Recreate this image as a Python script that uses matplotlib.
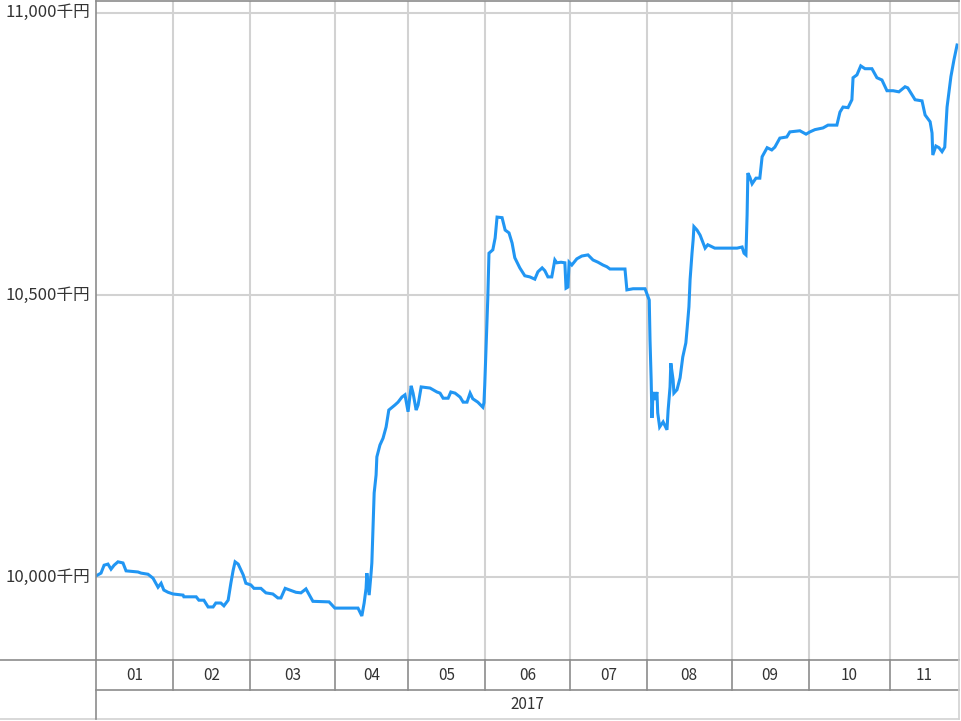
import matplotlib.pyplot as plt
from matplotlib.lines import Line2D
from matplotlib.transforms import blended_transform_factory

plt.rcParams['font.family'] = ['Noto Sans CJK JP', 'DejaVu Sans']

# 月ごとの営業日数 (2017年1月〜11月)
months = ['01', '02', '03', '04', '05', '06', '07', '08', '09', '10', '11']
month_days = [20, 20, 22, 19, 20, 22, 20, 22, 20, 21, 18]
year_label = '2017'

# 基準価額 (千円) — 営業日インデックスと値
day = [0, 1.3, 2.1, 3.1, 3.9, 4.7, 5.7, 7.0, 7.8, 10.9, 11.7, 13.5, 14.8, 16.1, 16.9, 17.6,
       18.7, 20.0, 22.6, 22.8, 26.0, 26.7, 28.0, 29.1, 30.4, 31.1, 32.4, 33.2, 34.3, 35.0,
       35.6, 36.1, 36.9, 38.2, 38.9, 40.2, 41.0, 42.8, 44.1, 45.9, 47.2, 48.0, 49.1, 51.9,
       53.2, 54.5, 56.3, 60.5, 62.0, 68.0, 69.0, 69.6, 70.1, 70.3, 70.9, 71.4, 71.6, 71.9,
       72.2, 72.7, 72.9, 73.7, 74.5, 75.3, 76.0, 77.6, 78.4, 79.4, 80.2, 81.0, 81.8, 82.3,
       83.1, 83.6, 84.4, 86.7, 88.5, 89.3, 90.1, 91.4, 92.1, 93.2, 94.5, 95.3, 96.3, 97.1,
       97.8, 99.1, 100.4, 100.7, 100.9, 101.7, 102.0, 103.0, 103.6, 104.1, 105.4, 106.2,
       107.2, 108.0, 108.7, 110.0, 111.3, 112.6, 113.9, 114.7, 115.8, 116.5, 117.3, 118.3,
       119.1, 119.6, 120.7, 121.7, 122.0, 122.5, 122.8, 123.5, 124.8, 126.1, 127.7, 129.0,
       130.3, 131.6, 132.6, 133.4, 137.3, 137.8, 139.4, 142.5, 143.6, 143.8, 144.1, 144.3,
       144.6, 145.1, 145.6, 145.8, 146.3, 147.2, 148.2, 148.5, 149.0, 149.2, 149.8, 150.0,
       150.8, 151.6, 152.3, 153.1, 153.4, 153.9, 154.2, 154.7, 155.0, 155.2, 156.0, 156.8,
       158.1, 158.8, 160.6, 166.4, 167.7, 168.2, 168.7, 169.0, 169.2, 169.7, 170.3, 171.3,
       172.3, 172.9, 174.2, 175.4, 176.2, 177.5, 179.3, 180.1, 182.7, 184.3, 185.3, 186.6,
       188.7, 190.0, 192.3, 193.1, 193.9, 195.2, 196.2, 196.5, 197.5, 198.5, 199.6, 201.4,
       202.7, 204.0, 205.3, 206.9, 208.4, 210.0, 210.7, 212.6, 214.4, 215.2, 216.5, 217.0,
       217.2, 218.0, 218.8, 219.6, 220.3, 220.9, 221.9, 222.7, 223.5]
value = [10002, 10007, 10021, 10023, 10014, 10021, 10027, 10025, 10011, 10009, 10007, 10005,
         9998, 9982, 9989, 9977, 9973, 9970, 9968, 9965, 9965, 9959, 9959, 9947, 9947, 9954,
         9954, 9949, 9959, 9989, 10012, 10027, 10023, 10004, 9989, 9986, 9980, 9980, 9972,
         9970, 9963, 9963, 9980, 9973, 9972, 9979, 9957, 9956, 9945, 9945, 9931, 9954, 9980,
         10007, 9968, 10007, 10025, 10089, 10149, 10181, 10213, 10234, 10246, 10266, 10296,
         10305, 10310, 10319, 10323, 10293, 10339, 10326, 10296, 10305, 10337, 10335, 10328,
         10326, 10317, 10317, 10328, 10326, 10319, 10310, 10310, 10326, 10316, 10310, 10301,
         10309, 10340, 10496, 10574, 10580, 10601, 10638, 10637, 10615, 10610, 10592, 10566,
         10548, 10534, 10532, 10528, 10541, 10548, 10543, 10532, 10532, 10562, 10557, 10558,
         10557, 10512, 10514, 10558, 10553, 10564, 10569, 10571, 10562, 10558, 10553, 10550,
         10546, 10546, 10509, 10511, 10511, 10491, 10420, 10349, 10282, 10328, 10314, 10328,
         10291, 10266, 10275, 10261, 10296, 10337, 10379, 10349, 10326, 10332, 10353, 10390,
         10415, 10438, 10479, 10527, 10574, 10598, 10621, 10615, 10606, 10583, 10589, 10583,
         10583, 10585, 10574, 10571, 10642, 10716, 10709, 10697, 10707, 10707, 10745, 10761,
         10757, 10762, 10778, 10780, 10789, 10791, 10785, 10789, 10793, 10796, 10801, 10801,
         10824, 10833, 10832, 10846, 10885, 10890, 10906, 10901, 10901, 10885, 10881, 10862,
         10862, 10860, 10869, 10867, 10846, 10844, 10819, 10807, 10787, 10748, 10764, 10761,
         10754, 10762, 10833, 10887, 10917, 10943]

y_ticks = [10000, 10500, 11000]
y_labels = ['10,000千円', '10,500千円', '11,000千円']

edges = [0]
for n in month_days:
    edges.append(edges[-1] + n)

W, H = 961, 721
fig = plt.figure(figsize=(W / 100, H / 100), dpi=100)
ax = fig.add_axes([96 / W, 61 / H, 863 / W, 659 / H])

dark = '#8c8c8c'
light = '#d2d2d2'

ax.plot(day, value, color='#2196f3', linewidth=2.2, solid_joinstyle='miter')
ax.set_xlim(edges[0], edges[-1])
ax.set_ylim(9853, 11021)

for e in edges[1:-1]:
    ax.axvline(e, color=light, linewidth=1.5, zorder=0)
for t in y_ticks:
    ax.axhline(t, color=light, linewidth=1.5, zorder=0)

ax.set_xticks([])
ax.set_yticks([])
for s in ax.spines.values():
    s.set_color(dark)
    s.set_linewidth(1.2)
ax.spines['right'].set_color(light)

# 縦軸ラベル (左側の列)
ty = blended_transform_factory(fig.transFigure, ax.transData)
for t, lab in zip(y_ticks, y_labels):
    fig.text(90 / W, t, lab, transform=ty, ha='right', va='center',
             fontsize=12, color='#333333')

# 下部の月・年の表
tx = blended_transform_factory(ax.transData, fig.transFigure)
y_top = 1 - 660 / H
y_mid = 1 - 690 / H
y_bot = 1 - 719 / H

fig.add_artist(Line2D([0, 96 / W], [y_top, y_top], color=dark, linewidth=1.2))
fig.add_artist(Line2D([96 / W, 959 / W], [y_mid, y_mid], color=dark, linewidth=1.2))
fig.add_artist(Line2D([0, 959 / W], [y_bot, y_bot], color=light, linewidth=1.2))
fig.add_artist(Line2D([96 / W, 96 / W], [y_bot, y_top], color=dark, linewidth=1.2))
fig.add_artist(Line2D([959 / W, 959 / W], [y_bot, y_top], color=light, linewidth=1.2))
for e in edges[1:-1]:
    ax.plot([e, e], [y_mid, y_top], transform=tx, color=dark, linewidth=1.2, clip_on=False)

for i, m in enumerate(months):
    ax.text((edges[i] + edges[i + 1]) / 2, (y_top + y_mid) / 2, m, transform=tx,
            ha='center', va='center', fontsize=11, color='#333333')
ax.text((edges[0] + edges[-1]) / 2, (y_mid + y_bot) / 2, year_label, transform=tx,
        ha='center', va='center', fontsize=11, color='#333333')

fig.savefig('out.png', dpi=100)
